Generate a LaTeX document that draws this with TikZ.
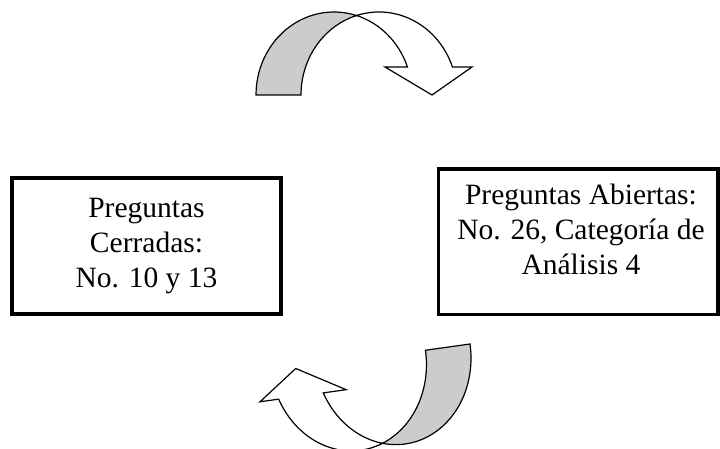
\documentclass[tikz,border=0pt]{standalone}
\usepackage{fontspec}
\setmainfont{Liberation Serif}
\newcommand\myCurvedArrow[1]{%
  \pgfmathsetmacro\myTo{asin(28/#1)}%
  \pgfmathsetmacro\myXi{78+78*cos(\myTo)}%
  \filldraw[arrowline, fill=arrowgray] (0,0)
    arc[start angle=180, end angle=73.23, x radius=78, y radius=#1]
    arc[start angle=106.77, end angle=180, x radius=78, y radius=#1] -- cycle;
  \filldraw[arrowline, fill=white] (100.5,{0.9574*#1})
    arc[start angle=106.77, end angle=\myTo, x radius=78, y radius=#1]
    -- (216,28) -- (176,0) -- (129,28) -- (\myXi,28)
    arc[start angle=\myTo, end angle=73.23, x radius=78, y radius=#1] -- cycle;
}
\begin{document}
\begin{tikzpicture}[x=1pt,y=1pt,
  boxstyle/.style={draw, line width=3.5pt, inner sep=0pt},
  labelstyle/.style={align=center, inner sep=0pt, font=\fontsize{29.5}{35}\selectfont},
  arrowline/.style={line width=1.2pt, line join=miter},
]
\definecolor{arrowgray}{RGB}{204,204,204}
\useasboundingbox (0,0) rectangle (720,449);
\node[boxstyle, minimum width=269pt, minimum height=136pt] (cerradas) at (146.5,203) {};
\node[boxstyle, minimum width=279.5pt, minimum height=145.5pt] (abiertas) at (578.25,207.25) {};
\node[labelstyle, anchor=base] (cerradastxt) at (146.5,161) {Preguntas\\Cerradas:\\No. 10 y 13};
\node[labelstyle, anchor=base] (abiertastxt) at (581,174) {Preguntas Abiertas:\\No. 26, Categoría de\\Análisis 4};
\begin{scope}[shift={(256,354)}]
  \myCurvedArrow{83}
\end{scope}
\begin{scope}[shift={(470,105)}, rotate=188]
  \myCurvedArrow{90}
\end{scope}
\end{tikzpicture}
\end{document}
